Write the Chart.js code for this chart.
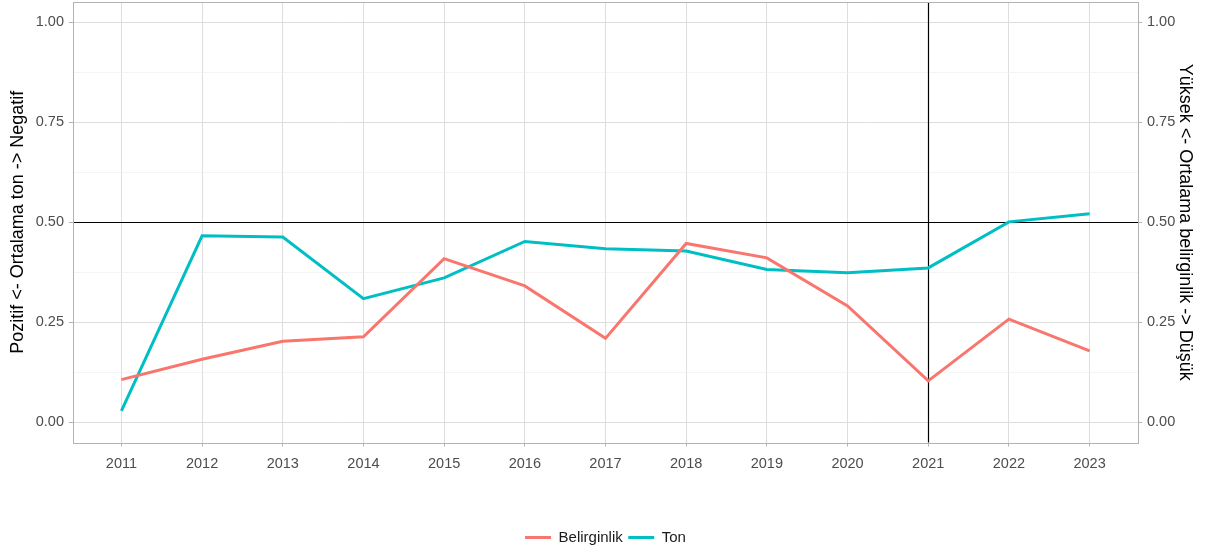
<!DOCTYPE html>
<html>
<head>
<meta charset="utf-8">
<script src="https://cdn.jsdelivr.net/npm/chart.js@4"></script>
<style>
  html, body { margin: 0; padding: 0; background: #fff; }
  #wrap { width: 1211px; height: 552px; }
</style>
</head>
<body>
<div id="wrap"><canvas id="chart" width="1211" height="552"></canvas></div>
<script>
// yearly series
var years = [2011, 2012, 2013, 2014, 2015, 2016, 2017, 2018, 2019, 2020, 2021, 2022, 2023]
var belirginlik = [0.107, 0.158, 0.203, 0.214, 0.409, 0.341, 0.210, 0.447, 0.411, 0.291, 0.104, 0.258, 0.179]
var ton = [0.029, 0.466, 0.463, 0.309, 0.361, 0.452, 0.434, 0.428, 0.382, 0.374, 0.386, 0.501, 0.521]
var yTicks = [0, 0.125, 0.25, 0.375, 0.5, 0.625, 0.75, 0.875, 1]
var refY = 0.5
var refX = 2021

var FONT = "'Liberation Sans', Arial, sans-serif"

function isMajor(v) {
    return Math.abs(v * 4 - Math.round(v * 4)) < 1e-6
}

function yAxis(pos, title, titlePad) {
    return {
        type: 'linear',
        position: pos,
        min: -0.05,
        max: 1.05,
        afterBuildTicks: function (scale) {
            scale.ticks = yTicks.map(function (v) { return { value: v } })
        },
        afterFit: function (scale) {
            scale.width = 73
            scale.paddingTop = 0
            scale.paddingBottom = 0
        },
        grid: {
            drawOnChartArea: pos === 'left',
            color: function (ctx) { return isMajor(ctx.tick.value) ? '#dedede' : '#ededed' },
            lineWidth: function (ctx) { return isMajor(ctx.tick.value) ? 1 : 0.6 },
            tickColor: function (ctx) { return isMajor(ctx.tick.value) ? '#b3b3b3' : 'rgba(0,0,0,0)' },
            tickLength: 4
        },
        border: { display: false },
        ticks: {
            padding: 5,
            color: '#4d4d4d',
            font: { family: FONT, size: 14.5 },
            callback: function (v) { return isMajor(v) ? v.toFixed(2) : '' }
        },
        title: {
            display: true,
            text: title,
            color: '#000',
            font: { family: FONT, size: 18 },
            padding: { top: titlePad, bottom: 0 }
        }
    }
}

// reference lines and panel border
var overlay = {
    id: 'overlay',
    beforeDatasetsDraw: function (chart) {
        var c = chart.ctx, a = chart.chartArea
        var xs = chart.scales.x, ys = chart.scales.y
        c.save()
        c.strokeStyle = '#000'
        c.lineWidth = 1.2
        var py = Math.round(ys.getPixelForValue(refY)) + 0.5
        c.beginPath(); c.moveTo(a.left, py); c.lineTo(a.right, py); c.stroke()
        var px = Math.round(xs.getPixelForValue(refX)) + 0.5
        c.beginPath(); c.moveTo(px, a.top); c.lineTo(px, a.bottom); c.stroke()
        c.restore()
    },
    afterDraw: function (chart) {
        var c = chart.ctx, a = chart.chartArea
        c.save()
        c.strokeStyle = '#b3b3b3'
        c.lineWidth = 1
        c.strokeRect(Math.round(a.left) + 0.5, Math.round(a.top) + 0.5, Math.round(a.right - a.left), Math.round(a.bottom - a.top))
        c.restore()
    }
}

new Chart(document.getElementById('chart').getContext('2d'), {
    type: 'line',
    data: {
        datasets: [{
            label: 'Belirginlik',
            data: years.map(function (y, i) { return { x: y, y: belirginlik[i] } }),
            borderColor: '#F8766D',
            backgroundColor: '#F8766D',
            borderWidth: 3,
            pointRadius: 0,
            tension: 0
        }, {
            label: 'Ton',
            data: years.map(function (y, i) { return { x: y, y: ton[i] } }),
            borderColor: '#00BFC4',
            backgroundColor: '#00BFC4',
            borderWidth: 3,
            pointRadius: 0,
            tension: 0
        }]
    },
    options: {
        responsive: false,
        animation: false,
        layout: { padding: { top: 2, bottom: -3, left: 0, right: 0 } },
        plugins: {
            tooltip: { enabled: false },
            legend: {
                position: 'bottom',
                labels: {
                    usePointStyle: true,
                    pointStyle: 'line',
                    pointStyleWidth: 26,
                    boxWidth: 26,
                    boxHeight: 15,
                    padding: 5.5,
                    color: '#1a1a1a',
                    font: { family: FONT, size: 15 }
                }
            }
        },
        scales: {
            x: {
                type: 'linear',
                min: 2010.4,
                max: 2023.6,
                afterBuildTicks: function (scale) {
                    scale.ticks = years.map(function (v) { return { value: v } })
                },
                afterFit: function (scale) { scale.height = 82 },
                grid: { color: '#dedede', tickColor: '#b3b3b3', tickLength: 4 },
                border: { display: false },
                ticks: {
                    padding: 9,
                    color: '#4d4d4d',
                    font: { family: FONT, size: 14.5 },
                    maxRotation: 0,
                    callback: function (v) { return String(v) }
                }
            },
            y: yAxis('left', 'Pozitif <- Ortalama ton -> Negatif', 7),
            y2: yAxis('right', 'Yüksek <- Ortalama belirginlik -> Düşük', 15)
        }
    },
    plugins: [overlay]
})
</script>
</body>
</html>
